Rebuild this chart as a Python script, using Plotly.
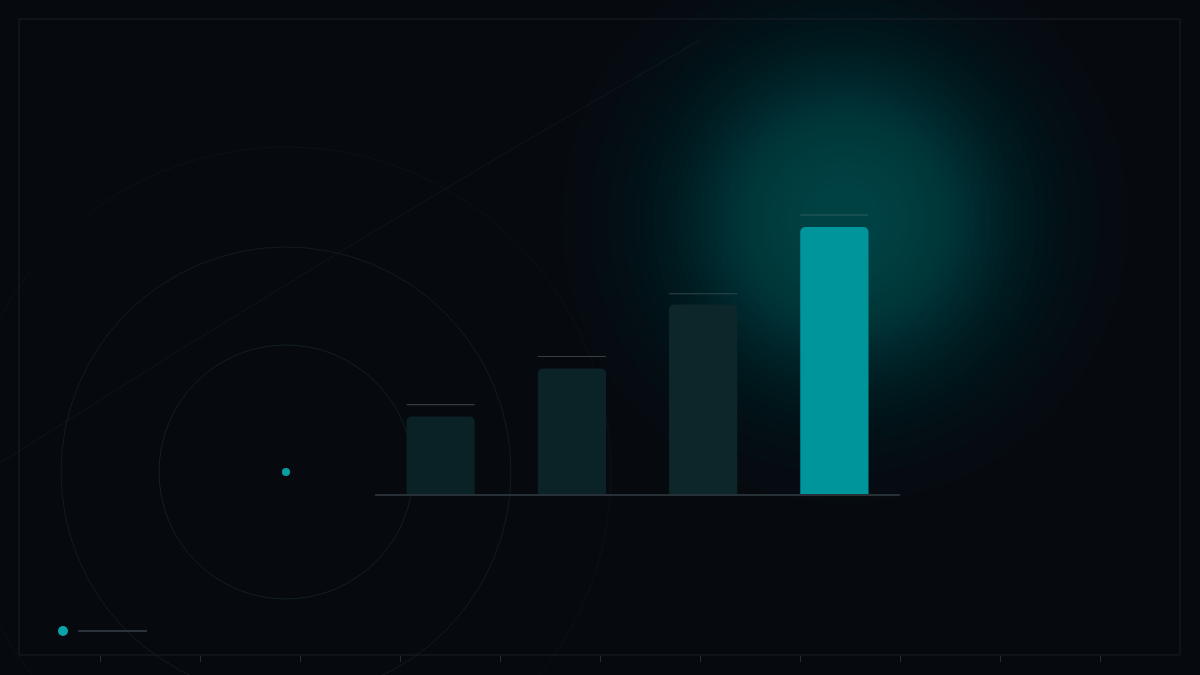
import math
import plotly.graph_objects as go

W, H = 1200, 675

# data
categories = ["Q1", "Q2", "Q3", "Q4"]
values = [29, 47, 71, 100]
previous = [33.5, 51.5, 75, 104.5]
bar_colors = ["#0a2125", "#0b2327", "#0c262a", "#00959a"]
cap_colors = ["#353e44", "#353f45", "#30444a", "#2c5a5e"]
frame_ticks = [100, 200, 300, 400, 500, 600, 700, 800, 900, 1000, 1100]


def px(x):
    return x / W


def py(y):
    return 1 - y / H


def circle(cx, cy, r, **kw):
    return dict(type="circle", xref="paper", yref="paper",
                x0=px(cx - r), x1=px(cx + r), y0=py(cy + r), y1=py(cy - r), **kw)


fig = go.Figure()

fig.add_trace(go.Bar(
    x=categories,
    y=values,
    marker=dict(color=bar_colors, line=dict(width=0)),
    hoverinfo="skip",
    showlegend=False,
))

# thin caps above each bar (line-ew markers are 1.4x their size wide)
fig.add_trace(go.Scatter(
    x=categories,
    y=previous,
    mode="markers",
    marker=dict(symbol="line-ew", size=68 / 1.4, line=dict(width=1.2, color=cap_colors)),
    hoverinfo="skip",
    showlegend=False,
))

# empty trace so the frame tick axis gets drawn
fig.add_trace(go.Scatter(x=[], y=[], xaxis="x2", yaxis="y2", showlegend=False))

shapes = []

# soft teal glow behind the last bar: stacked translucent discs, gaussian-ish falloff
# (alpha of 5/255 keeps the 8-bit blending from drifting towards blue)
n_glow = 36
sigma = 106
for i in range(1, n_glow):
    r = sigma * math.sqrt(-2 * math.log(i / n_glow))
    shapes.append(circle(845, 220, r, fillcolor="rgba(0,150,158,0.0196)",
                         line=dict(width=0), layer="below"))

# rings on the left
shapes.append(circle(286, 472, 325, line=dict(color="rgba(30,46,56,0.22)", width=1), layer="below"))
shapes.append(circle(286, 472, 225, line=dict(color="rgba(30,48,58,0.45)", width=1), layer="below"))
shapes.append(circle(286, 472, 127, line=dict(color="rgba(30,48,58,0.55)", width=1), layer="below"))
shapes.append(circle(286, 472, 4, fillcolor="#0a9ea5", line=dict(width=0)))

# faint sweeping arc
shapes.append(dict(type="path", xref="paper", yref="paper",
                   path=f"M {px(0)},{py(463)} Q {px(350)},{py(240)} {px(700)},{py(40)}",
                   line=dict(color="rgba(50,62,72,0.22)", width=1), layer="below"))

# outer frame
shapes.append(dict(type="rect", xref="paper", yref="paper",
                   x0=px(19), x1=px(1180), y0=py(655), y1=py(19),
                   line=dict(color="#1a1f26", width=1), layer="below"))

# legend marker bottom-left
shapes.append(circle(63, 631, 5, fillcolor="#0aa4ac", line=dict(width=0)))
shapes.append(dict(type="line", xref="paper", yref="paper",
                   x0=px(78), x1=px(147), y0=py(631), y1=py(631),
                   line=dict(color="#3a4148", width=1.5)))

y_top = (494 - 135) / 2.67

fig.update_layout(
    width=W,
    height=H,
    margin=dict(l=0, r=0, t=0, b=0),
    paper_bgcolor="#06090e",
    plot_bgcolor="rgba(0,0,0,0)",
    bargap=0.48,
    barcornerradius=5,
    shapes=shapes,
    xaxis=dict(
        domain=[px(375), px(900)],
        range=[-0.5, 3.5],
        showticklabels=False,
        ticks="",
        showgrid=False,
        zeroline=False,
        showline=True,
        linecolor="#283037",
        linewidth=1.5,
        fixedrange=True,
    ),
    yaxis=dict(
        domain=[py(494), py(135)],
        range=[0, y_top],
        visible=False,
        fixedrange=True,
    ),
    xaxis2=dict(
        domain=[0, 1],
        range=[0, W],
        anchor="free",
        position=py(655),
        tickvals=frame_ticks,
        ticks="outside",
        ticklen=6,
        tickwidth=1,
        tickcolor="#272d34",
        showticklabels=False,
        showgrid=False,
        zeroline=False,
        showline=False,
        fixedrange=True,
    ),
    yaxis2=dict(
        domain=[0, 1],
        range=[0, H],
        anchor="x2",
        visible=False,
        fixedrange=True,
    ),
)

fig.write_html(
    "out.html",
    config={"displayModeBar": False},
    post_script="document.body.style.margin='0';document.body.style.background='#06090e';",
)
